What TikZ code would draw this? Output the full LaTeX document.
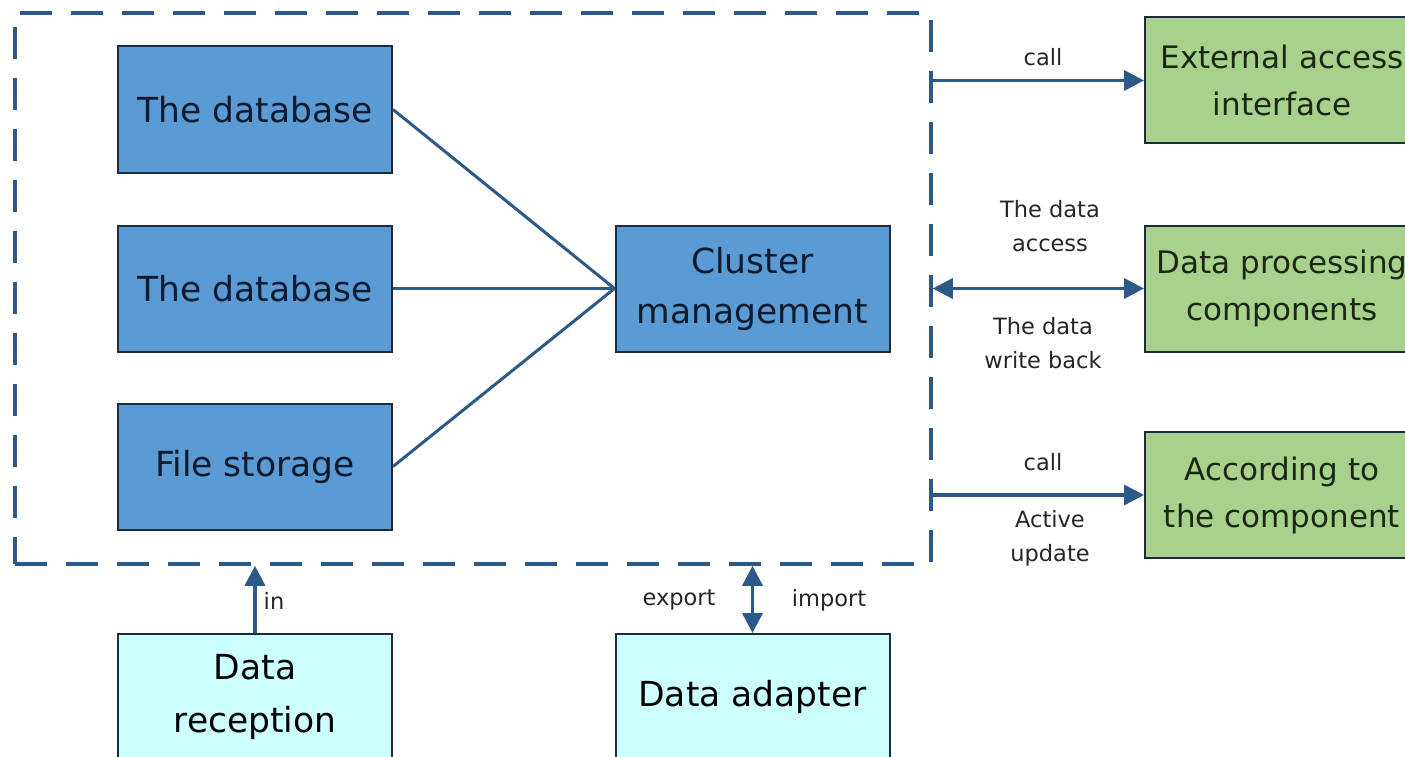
\documentclass[tikz,border=0pt]{standalone}
\usepackage{fontspec}
\setmainfont{DejaVu Sans}
\usetikzlibrary{arrows.meta}
\definecolor{boxblue}{HTML}{5B9BD5}
\definecolor{boxgreen}{HTML}{A9D18E}
\definecolor{boxcyan}{HTML}{CCFFFF}
\definecolor{edgedark}{HTML}{1E2B3C}
\definecolor{linkblue}{HTML}{2C5A88}
\definecolor{inkblue}{HTML}{0E1A2E}
\definecolor{inkgreen}{HTML}{1B2712}
\tikzset{
  block/.style={draw=edgedark, line width=2pt, minimum width=274pt,
    minimum height=126pt, align=center, inner sep=0pt,
    font=\fontsize{34.5}{53}\selectfont},
  storebox/.style={block, fill=boxblue, text=inkblue},
  servicebox/.style={block, fill=boxgreen, text=inkgreen,
    font=\fontsize{31}{47}\selectfont},
  feedbox/.style={block, fill=boxcyan, text=black},
  zoneframe/.style={draw=linkblue, line width=3.5pt, dash pattern=on 32pt off 19pt},
  wire/.style={draw=linkblue, line width=3pt},
  flow/.style={draw=linkblue, line width=3.5pt,
    -{Triangle[length=20pt,width=20pt]}},
  dualflow/.style={draw=linkblue, line width=3.5pt,
    {Triangle[length=20pt,width=20pt]}-{Triangle[length=20pt,width=20pt]}},
  tag/.style={font=\fontsize{22.5}{34}\selectfont, text=black!85, align=center,
    inner sep=0pt}
}
\begin{document}
\begin{tikzpicture}[x=1pt,y=-1pt]
\useasboundingbox (0,0) rectangle (1405,757);

% storage side, grouped inside the dashed frame
\node[zoneframe, minimum width=916pt, minimum height=551pt, inner sep=0pt]
  (zone) at (473,288.5) {};

\node[storebox] (db1) at (255,109.5) {The database};
\node[storebox] (db2) at (255,288.5) {The database};
\node[storebox] (files) at (255,466.5) {File storage};
\node[storebox] (cluster) at (752.5,288.5) {\raisebox{-3pt}{Cluster}\\management};

\draw[wire] (db1.east) -- (cluster.west);
\draw[wire] (db2.east) -- (cluster.west);
\draw[wire] (files.east) -- (cluster.west);

% consumers on the right
\node[servicebox] (ext) at (1282,80.5) {External access\\interface};
\node[servicebox] (proc) at (1282,288.5) {Data processing\\components};
\node[servicebox] (comp) at (1282,495) {According to\\the component};

\draw[flow] (ext.west -| zone.east) -- (ext.west);
\draw[dualflow] (proc.west -| zone.east) -- (proc.west);
\draw[flow] (comp.west -| zone.east) -- (comp.west);

\node[tag] (l1) at (1043,57) {call};
\node[tag] (l2) at (1050,226) {The data\\access};
\node[tag] (l3) at (1043,343) {The data\\write back};
\node[tag] (l4) at (1043,462) {call};
\node[tag] (l5) at (1050,538) {Active\\update};

% feeders below
\node[feedbox, anchor=north] (recv) at (255,633) {Data\\reception};
\node[feedbox, anchor=north] (adapt) at (752.5,633) {Data adapter};

\draw[flow] (recv.north) -- (recv.north |- zone.south);
\draw[dualflow] (adapt.north) -- (adapt.north |- zone.south);

\node[tag] (l6) at (274,601) {in};
\node[tag] (l7) at (679,600) {export};
\node[tag] (l8) at (829,600) {import};
\end{tikzpicture}
\end{document}
